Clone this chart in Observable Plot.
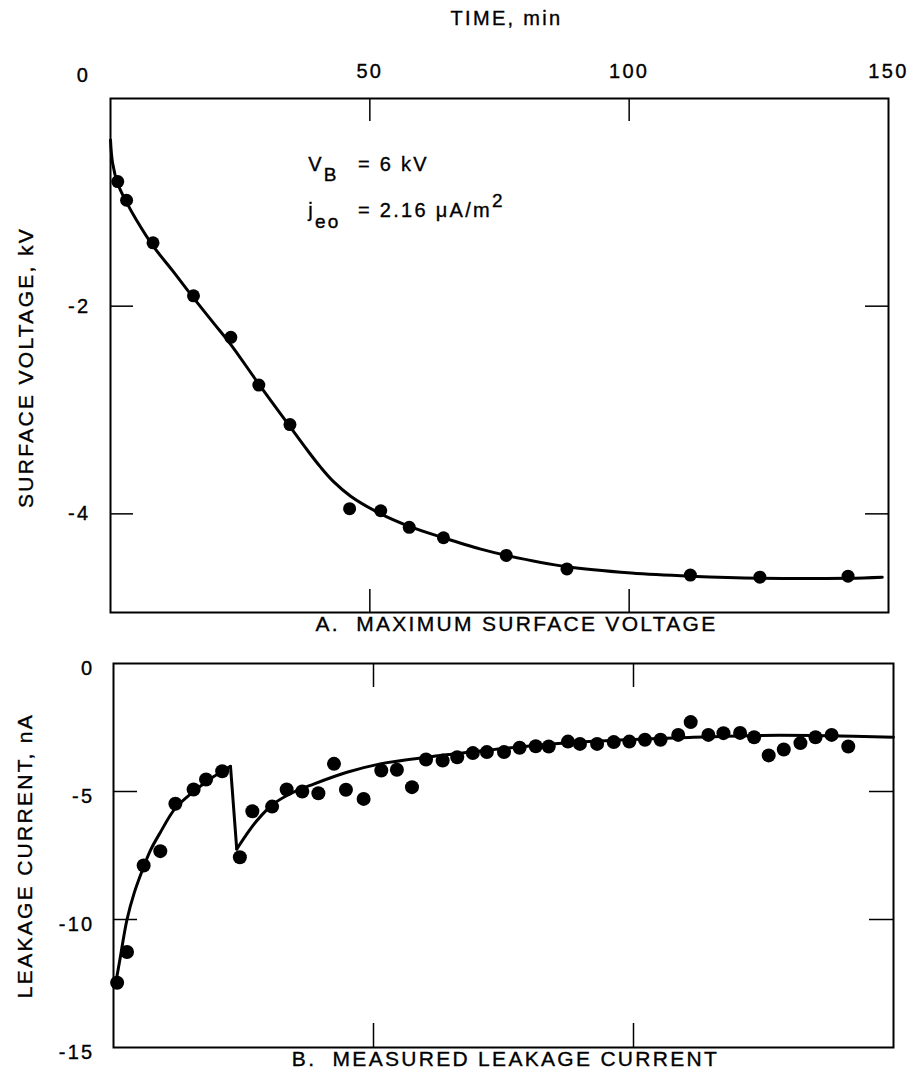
<!DOCTYPE html>
<html><head><meta charset="utf-8">
<script src="https://cdn.jsdelivr.net/npm/d3@7"></script>
<script src="https://cdn.jsdelivr.net/npm/@observablehq/plot@0.6"></script>
<style>
body{margin:0;background:#fff;}
#root{position:relative;width:910px;height:1078px;background:#fff;}
#root svg{position:absolute;left:0;display:block;}
#root svg text{stroke:#000;stroke-width:0.35px;}
</style></head><body><div id="root"></div>
<script>
// ---- axis ticks ----
const timeTicks = [0, 50, 100, 150];
const innerTimeTicks = [50, 100];
const voltTicks = [-2, -4];
const leakTicks = [0, -5, -10, -15];
const innerLeakTicks = [-5, -10];

// ---- Panel A: maximum surface voltage (kV) vs time (min) ----
const voltT = [1.4, 3.1, 8.2, 16.0, 23.2, 28.6, 34.6, 46.1, 52.1, 57.6, 64.2, 76.3, 88.0, 111.8, 125.2, 142.2];
const voltV = [-0.80, -0.98, -1.39, -1.90, -2.30, -2.76, -3.14, -3.95, -3.97, -4.13, -4.23, -4.40, -4.53, -4.59, -4.61, -4.60];
const voltFitT = [0, 0.4, 1.4, 3.1, 5, 8.2, 12, 16, 20, 23.2, 28.6, 34.6, 38, 40.5, 43, 46.3, 52.1, 57.6, 64.2, 71.4, 76.3, 88, 100.4, 111.8, 125.2, 142.2, 148.8];
const voltFitV = [-0.4, -0.62, -0.82, -1.0, -1.17, -1.42, -1.66, -1.92, -2.17, -2.37, -2.75, -3.16, -3.39, -3.55, -3.69, -3.83, -4.0, -4.12, -4.23, -4.34, -4.40, -4.51, -4.57, -4.60, -4.62, -4.62, -4.61];

// ---- Panel B: measured leakage current (nA) vs time (min) ----
const leakT = [0.7, 2.6, 5.8, 9.0, 11.9, 15.4, 17.8, 20.9, 24.3, 26.7, 30.5, 33.3, 36.3, 39.4, 42.4, 44.7, 48.1, 51.5, 54.5, 57.4, 60.1, 63.3, 66.1, 69.1, 71.8, 75.1, 78.1, 81.2, 83.7, 87.4, 89.7, 93.0, 96.2, 99.2, 102.2, 105.2, 108.6, 111.0, 114.4, 117.3, 120.5, 123.2, 126.0, 128.9, 132.1, 135.0, 138.1, 141.3];
const leakI = [-12.47, -11.27, -7.89, -7.33, -5.48, -4.92, -4.53, -4.21, -7.57, -5.77, -5.59, -4.92, -5.0, -5.07, -3.92, -4.93, -5.29, -4.18, -4.15, -4.83, -3.75, -3.79, -3.66, -3.50, -3.46, -3.46, -3.29, -3.23, -3.24, -3.05, -3.14, -3.14, -3.07, -3.05, -2.98, -2.98, -2.79, -2.29, -2.79, -2.72, -2.71, -2.88, -3.59, -3.36, -3.11, -2.88, -2.79, -3.24];
const leakFitT = [0.5, 1.2, 2.6, 4.0, 5.5, 7.1, 9.0, 11.9, 15.4, 18.7, 21.0, 22.5,
                  22.5, 23.7,
                  23.7, 25.5, 27.6, 30.8, 34.6, 38.5, 44.9, 51.3, 60.3, 70.6, 80, 89.8, 100, 109, 124.4, 137, 150];
const leakFitI = [-12.4, -11.6, -10.0, -8.95, -8.1, -7.3, -6.6, -5.65, -5.0, -4.5, -4.2, -4.02,
                  -4.02, -7.25,
                  -7.25, -6.7, -6.13, -5.48, -5.03, -4.71, -4.25, -3.92, -3.66, -3.42, -3.22, -3.07, -2.97, -2.9, -2.81, -2.82, -2.88];
const leakFitSeg = [1,1,1,1,1,1,1,1,1,1,1,1, 2,2, 3,3,3,3,3,3,3,3,3,3,3,3,3,3,3,3,3];

// ---- text ----
const xTitle = "TIME, min";
const yTitleA = "SURFACE VOLTAGE, kV";
const yTitleB = "LEAKAGE CURRENT, nA";
const panelA = "A.\u00a0 MAXIMUM SURFACE VOLTAGE";
const panelB = "B.\u00a0 MEASURED LEAKAGE CURRENT";

const voltPts = voltT.map((t, i) => ({t, v: voltV[i]}));
const voltFit = voltFitT.map((t, i) => ({t, v: voltFitV[i]}));
const leakPts = leakT.map((t, i) => ({t, v: leakI[i]}));
const leakFit = leakFitT.map((t, i) => ({t, v: leakFitI[i], seg: leakFitSeg[i]}));

const FONT = "'Liberation Sans', Arial, Helvetica, sans-serif";
const LS = "2.3px";
const style = {fontFamily: FONT, fontSize: "20px", letterSpacing: LS, background: "white", color: "black", overflow: "visible"};
const fmt = d => (d < 0 ? "-" : "") + Math.abs(d);
const mid = {lineAnchor: "middle"};
const big = {fontSize: 21};

// top panel geometry
const A = {w: 910, h: 640, mt: 98, mb: 28, ml: 110, mr: 22};
const aFW = A.w - A.ml - A.mr, aFH = A.h - A.mt - A.mb;
const TL = 23; // tick length

const topPlot = Plot.plot({
  width: A.w, height: A.h,
  marginTop: A.mt, marginBottom: A.mb, marginLeft: A.ml, marginRight: A.mr,
  x: {domain: [0, 150], axis: null},
  y: {domain: [-4.95, 0], axis: null},
  style,
  marks: [
    Plot.frame({stroke: "black", strokeWidth: 2}),
    Plot.tickX(innerTimeTicks, {x: d => d, insetBottom: aFH - TL, strokeWidth: 1.5}),
    Plot.tickX(innerTimeTicks, {x: d => d, insetTop: aFH - TL, strokeWidth: 1.5}),
    Plot.tickY(voltTicks, {y: d => d, insetRight: aFW - TL, strokeWidth: 1.5}),
    Plot.tickY(voltTicks, {y: d => d, insetLeft: aFW - TL, strokeWidth: 1.5}),
    Plot.line(voltFit, {x: "t", y: "v", curve: "catmull-rom", stroke: "black", strokeWidth: 3}),
    Plot.dot(voltPts, {x: "t", y: "v", r: 6.5, fill: "black"}),
    Plot.text(timeTicks.filter(d => d > 0), {x: d => d, text: d => String(d), frameAnchor: "top", textAnchor: "middle", ...mid, dy: -27}),
    Plot.text(timeTicks.filter(d => d === 0), {x: d => d, text: d => String(d), frameAnchor: "top", textAnchor: "middle", ...mid, dx: -27, dy: -23}),
    Plot.text(voltTicks, {y: d => d, text: fmt, frameAnchor: "left", textAnchor: "end", ...mid, dx: -20}),
    Plot.text([xTitle], {text: d => d, frameAnchor: "top", textAnchor: "middle", ...mid, dx: 7, dy: -80}),
    Plot.text([panelA], {text: d => d, frameAnchor: "bottom", textAnchor: "middle", ...mid, ...big, dx: 17, dy: 12}),
    Plot.text([yTitleA], {text: d => d, frameAnchor: "left", textAnchor: "middle", ...mid, ...big, rotate: -90, dx: -84, dy: 12})
  ]
});
topPlot.style.top = "0px";

// annotation with sub/superscripts, anchored through the plot's scales
{
  const sx = topPlot.scale("x"), sy = topPlot.scale("y");
  const svg = d3.select(topPlot);
  const g = svg.append("g").attr("font-family", FONT).attr("font-size", 20)
    .attr("fill", "black").attr("text-anchor", "start").style("letter-spacing", LS);
  const x0 = sx.apply(38.2), x1 = sx.apply(47.8);
  const y0 = sy.apply(-0.70), y1 = sy.apply(-1.15);
  const t1 = g.append("text").attr("x", x0).attr("y", y0);
  t1.append("tspan").text("V");
  t1.append("tspan").attr("dy", 10).attr("font-size", 19).text("B");
  g.append("text").attr("x", x1).attr("y", y0).text("= 6 kV");
  const t2 = g.append("text").attr("x", x0).attr("y", y1);
  t2.append("tspan").text("j");
  t2.append("tspan").attr("dy", 11).attr("font-size", 19).text("eo");
  const t3 = g.append("text").attr("x", x1).attr("y", y1);
  t3.append("tspan").text("= 2.16 \u03bcA/m");
  t3.append("tspan").attr("dy", -10).attr("font-size", 19).text("2");
}

// bottom panel geometry
const B = {w: 910, h: 438, mt: 23, mb: 31, ml: 113, mr: 17};
const bFW = B.w - B.ml - B.mr, bFH = B.h - B.mt - B.mb;

const botPlot = Plot.plot({
  width: B.w, height: B.h,
  marginTop: B.mt, marginBottom: B.mb, marginLeft: B.ml, marginRight: B.mr,
  x: {domain: [0, 150], axis: null},
  y: {domain: [-15, 0], axis: null},
  style,
  marks: [
    Plot.frame({stroke: "black", strokeWidth: 2}),
    Plot.tickX(innerTimeTicks, {x: d => d, insetBottom: bFH - 24, strokeWidth: 1.5}),
    Plot.tickX(innerTimeTicks, {x: d => d, insetTop: bFH - 24, strokeWidth: 1.5}),
    Plot.tickY(innerLeakTicks, {y: d => d, insetRight: bFW - 24, strokeWidth: 1.5}),
    Plot.tickY(innerLeakTicks, {y: d => d, insetLeft: bFW - 24, strokeWidth: 1.5}),
    Plot.line(leakFit, {x: "t", y: "v", z: "seg", curve: "catmull-rom", stroke: "black", strokeWidth: 3}),
    Plot.dot(leakPts, {x: "t", y: "v", r: 7, fill: "black"}),
    Plot.text(leakTicks, {y: d => d, text: fmt, frameAnchor: "left", textAnchor: "end", ...mid, dx: -19, dy: 5}),
    Plot.text([panelB], {text: d => d, frameAnchor: "bottom", textAnchor: "middle", ...mid, ...big, dx: 2, dy: 12}),
    Plot.text([yTitleB], {text: d => d, frameAnchor: "left", textAnchor: "middle", ...mid, ...big, rotate: -90, dx: -88})
  ]
});
botPlot.style.top = "640px";

const root = document.getElementById("root");
root.appendChild(topPlot);
root.appendChild(botPlot);
</script>
</body></html>
